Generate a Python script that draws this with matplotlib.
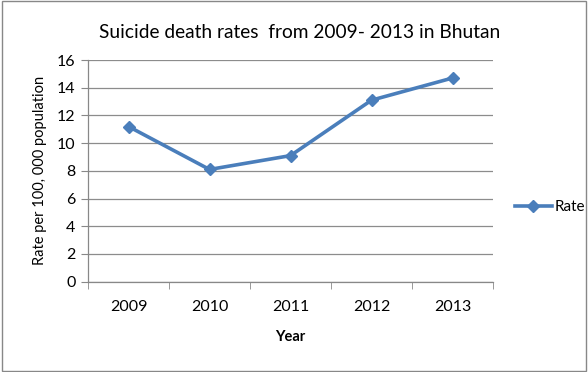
import matplotlib.pyplot as plt
from matplotlib.patches import Rectangle

years = ["2009", "2010", "2011", "2012", "2013"]
rates = [11.2, 8.1, 9.1, 13.1, 14.7]

plt.rcParams['font.family'] = ['Lato', 'DejaVu Sans']

fig = plt.figure(figsize=(5.88, 3.72), dpi=100)
ax = fig.add_axes([88/588, 1 - 281.7/372, (493 - 88)/588, (281.7 - 60)/372])

x = list(range(len(years)))
line, = ax.plot(x, rates, color='#4A7EBB', lw=2.6, marker='D', ms=6.5,
                markerfacecolor='#4A7EBB', markeredgecolor='#4A7EBB', label='Rate')

ax.set_xlim(-0.5, len(years) - 0.5)
ax.set_ylim(0, 16)
ax.set_yticks(range(0, 17, 2))
ax.set_xticks(x)
ax.set_xticklabels(years)
ax.set_xticks([i - 0.5 for i in range(len(years) + 1)], minor=True)
ax.tick_params(axis='x', which='major', length=0, pad=13, labelsize=11.5)
ax.tick_params(axis='x', which='minor', length=5, direction='out', color='#888888')
ax.tick_params(axis='y', length=5, direction='out', color='#888888', labelsize=11.5, pad=4)

ax.yaxis.grid(True, color='#8c8c8c', lw=0.9)
ax.set_axisbelow(True)
for s in ['top', 'right']:
    ax.spines[s].set_visible(False)
for s in ['left', 'bottom']:
    ax.spines[s].set_color('#888888')
    ax.spines[s].set_linewidth(0.9)

ax.set_ylabel('Rate per 100, 000 population', fontsize=10.5, labelpad=7)
ax.set_xlabel('Year', fontsize=10.5, fontweight='bold', labelpad=12)
fig.text(300/588, 1 - 33/372, 'Suicide death rates  from 2009- 2013 in Bhutan',
         ha='center', va='center', fontsize=13.8)

ax.legend(handles=[line], loc='center left', bbox_to_anchor=(515/588, 1 - 207/372),
          bbox_transform=fig.transFigure, frameon=False, fontsize=11,
          handlelength=2.4, handletextpad=0.2, borderaxespad=0, borderpad=0)

fig.patches.append(Rectangle((0.003, 0.004), 0.994, 0.992, transform=fig.transFigure,
                             fill=False, edgecolor='#888888', lw=1))

fig.savefig('out.png', dpi=100)
